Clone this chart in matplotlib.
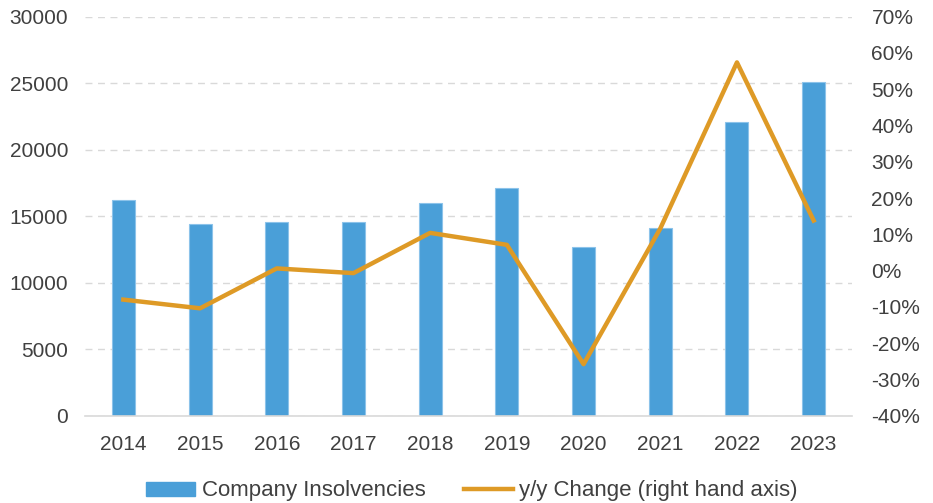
import numpy as np
import matplotlib.pyplot as plt
from matplotlib.lines import Line2D
from matplotlib.patches import Patch

years = ["2014", "2015", "2016", "2017", "2018", "2019", "2020", "2021", "2022", "2023"]
insolvencies = [16200, 14400, 14600, 14600, 16000, 17100, 12650, 14100, 22050, 25100]
yoy_change = [-8.0, -10.4, 0.6, -0.7, 10.4, 7.1, -25.8, 11.6, 57.4, 13.8]

bar_col = "#4A9FD8"
line_col = "#DE9A26"
txt_col = "#404040"
grid_col = "#D9D9D9"

plt.rcParams['font.family'] = ['Liberation Sans', 'DejaVu Sans']

fig = plt.figure(figsize=(9.33, 5.03), dpi=100)
ax = fig.add_axes([0.0911, 0.1736, 0.8221, 0.7932])
x = np.arange(len(years))

ax.bar(x, insolvencies, width=0.3, color=bar_col, edgecolor="#8CC3EA", linewidth=0.8, zorder=2)
ax.set_ylim(0, 30000)
ax.set_yticks(range(0, 30001, 5000))
ax.set_xlim(-0.5, 9.5)
ax.set_xticks(x)
ax.set_xticklabels(years)
ax.grid(axis="y", color=grid_col, linestyle=(0, (5, 4)), linewidth=1, zorder=0)
for s in ["top", "right", "left"]:
    ax.spines[s].set_visible(False)
ax.spines["bottom"].set_color(grid_col)
ax.spines["bottom"].set_linewidth(1.2)
ax.tick_params(axis="both", length=0, labelsize=15, colors=txt_col)
ax.tick_params(axis="x", pad=14)
ax.tick_params(axis="y", pad=12)

ax2 = ax.twinx()
ax2.plot(x, yoy_change, color=line_col, linewidth=3.2, zorder=3)
ax2.set_ylim(-40, 70)
ax2.set_yticks(range(-40, 71, 10))
ax2.set_yticklabels([f"{v}%" for v in range(-40, 71, 10)])
for s in ax2.spines.values():
    s.set_visible(False)
ax2.tick_params(axis="y", length=0, labelsize=15, colors=txt_col, pad=14)

handles = [Patch(facecolor=bar_col, edgecolor=bar_col),
           Line2D([0], [0], color=line_col, linewidth=3.2)]
fig.legend(handles, ["Company Insolvencies", "y/y Change (right hand axis)"],
           loc="center", bbox_to_anchor=(0.506, 0.024), ncol=2, frameon=False,
           fontsize=16, labelcolor=txt_col, handlelength=2.2, handleheight=0.6,
           handletextpad=0.28, columnspacing=1.75, borderpad=0)

fig.savefig("out.png", dpi=100)
